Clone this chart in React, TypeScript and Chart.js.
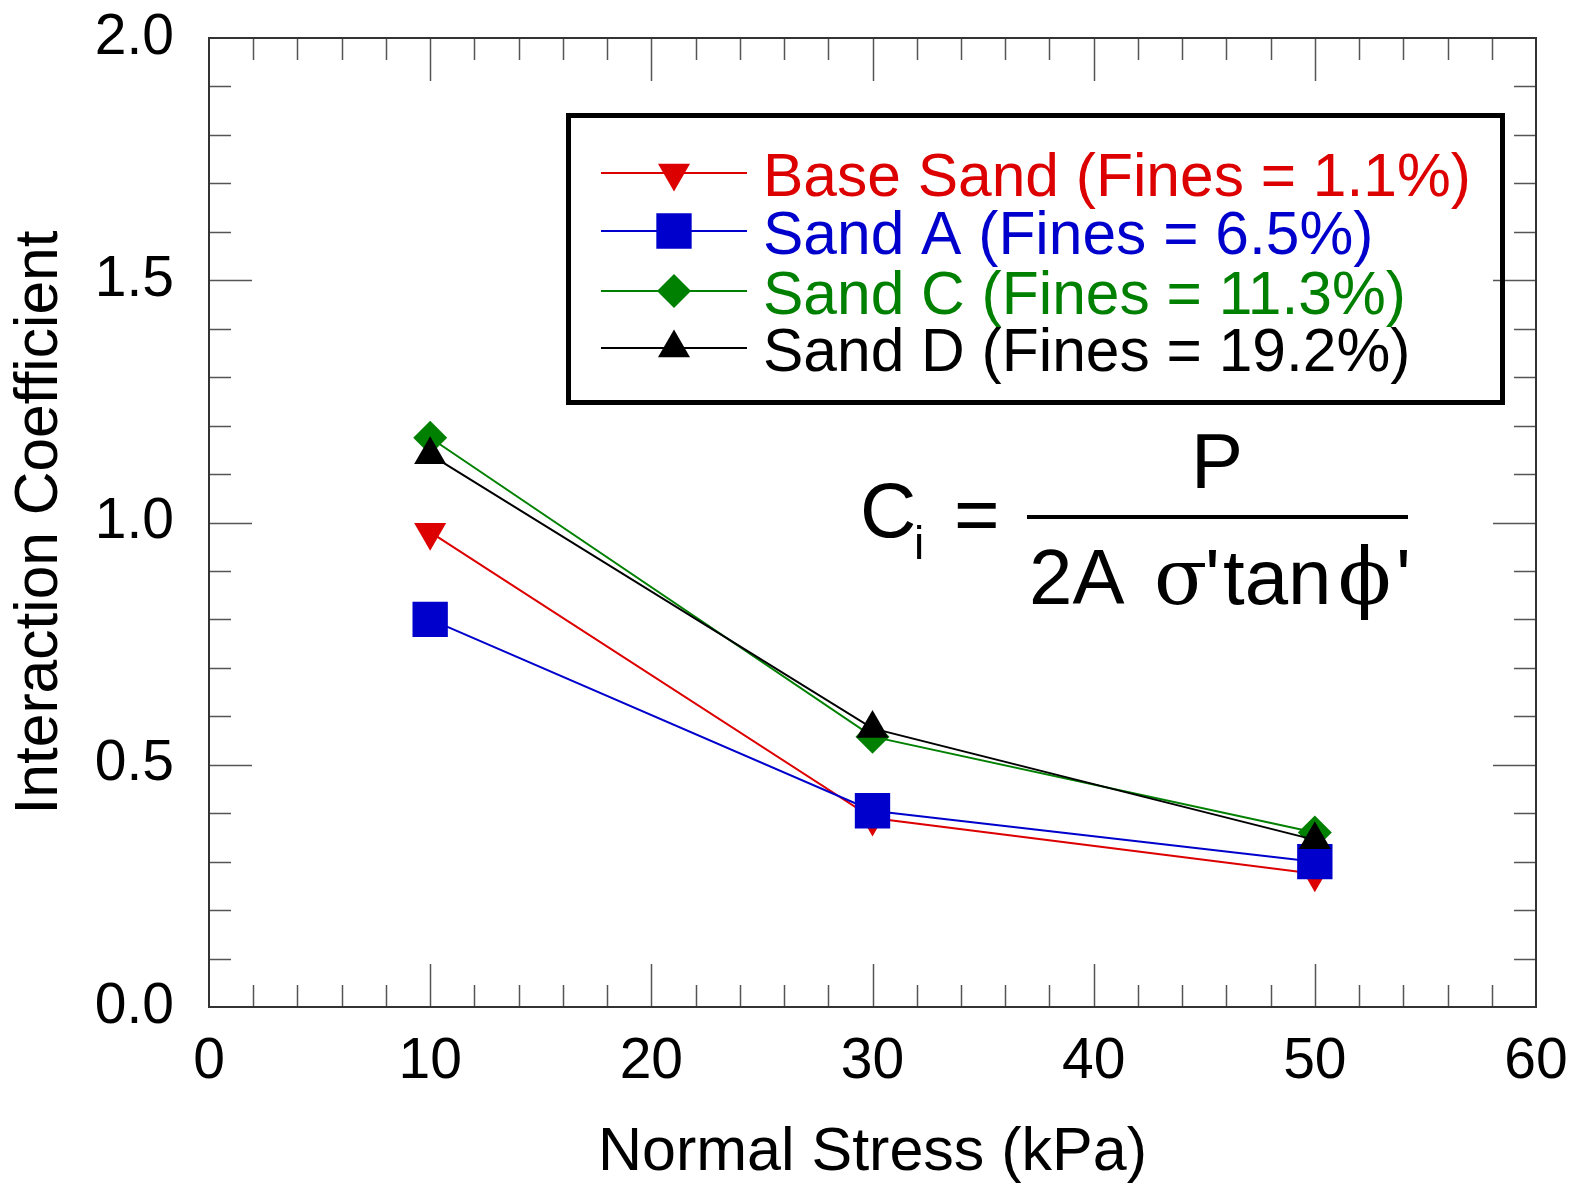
import React, { useEffect, useRef } from 'react';
import { Chart, registerables } from 'chart.js';

Chart.register(...registerables);

// ---------------- DATA ----------------
const stressKPa = [10, 30, 50];
const seriesNames = [
  'Base Sand (Fines = 1.1%)',
  'Sand A (Fines = 6.5%)',
  'Sand C (Fines = 11.3%)',
  'Sand D (Fines = 19.2%)',
];
const baseSand = [0.98, 0.39, 0.275];
const sandA = [0.8, 0.405, 0.3];
const sandC = [1.175, 0.558, 0.36];
const sandD = [1.14, 0.575, 0.345];
const xTickValues = [0, 10, 20, 30, 40, 50, 60];
const yTickValues = [0, 0.5, 1.0, 1.5, 2.0];
const xMinorStep = 2;
const yMinorStep = 0.1;
const xTitle = 'Normal Stress (kPa)';
const yTitle = 'Interaction Coefficient';

// ---------------- STYLES ----------------
const seriesColors = ['#dd0000', '#0000cc', '#008000', '#000000'];
const seriesStyles = [
  { pointStyle: 'triangle', radius: 18.5, rotation: 180 },
  { pointStyle: 'rect', radius: 25, rotation: 0 },
  { pointStyle: 'rectRot', radius: 17, rotation: 0 },
  { pointStyle: 'triangle', radius: 18.5, rotation: 0 },
];
const seriesOrder = [4, 2, 3, 1];
const FONT = '"Liberation Sans", Arial, Helvetica, sans-serif';
const SERIF = '"DejaVu Serif", "Liberation Serif", serif';

function drawMarker(ctx: CanvasRenderingContext2D, style: string, r: number, rotDeg: number, x: number, y: number, color: string) {
  ctx.save();
  ctx.fillStyle = color;
  ctx.beginPath();
  let rad = (rotDeg * Math.PI) / 180;
  if (style === 'triangle') {
    ctx.moveTo(x + Math.sin(rad) * r, y - Math.cos(rad) * r);
    rad += (2 * Math.PI) / 3;
    ctx.lineTo(x + Math.sin(rad) * r, y - Math.cos(rad) * r);
    rad += (2 * Math.PI) / 3;
    ctx.lineTo(x + Math.sin(rad) * r, y - Math.cos(rad) * r);
    ctx.closePath();
  } else if (style === 'rect') {
    const s = Math.SQRT1_2 * r;
    ctx.rect(x - s, y - s, 2 * s, 2 * s);
  } else {
    ctx.moveTo(x - r, y);
    ctx.lineTo(x, y - r);
    ctx.lineTo(x + r, y);
    ctx.lineTo(x, y + r);
    ctx.closePath();
  }
  ctx.fill();
  ctx.restore();
}

const frameTicksPlugin = {
  id: 'frameTicks',
  beforeDatasetsDraw(chart: any) {
    const ctx: CanvasRenderingContext2D = chart.ctx;
    const { left, right, top, bottom } = chart.chartArea;
    const xs = chart.scales.x;
    const ys = chart.scales.y;
    ctx.save();
    ctx.strokeStyle = '#555';
    ctx.lineWidth = 1.5;
    const isMajor = (v: number, list: number[]) => list.some((t) => Math.abs(t - v) < 1e-6);
    const nx = Math.round((xs.max - xs.min) / xMinorStep);
    for (let i = 1; i < nx; i++) {
      const v = xs.min + i * xMinorStep;
      const len = isMajor(v, xTickValues) ? 43 : 22;
      const px = Math.round(xs.getPixelForValue(v)) + 0.5;
      ctx.beginPath();
      ctx.moveTo(px, bottom);
      ctx.lineTo(px, bottom - len);
      ctx.moveTo(px, top);
      ctx.lineTo(px, top + len);
      ctx.stroke();
    }
    const ny = Math.round((ys.max - ys.min) / yMinorStep);
    for (let i = 1; i < ny; i++) {
      const v = ys.min + i * yMinorStep;
      const len = isMajor(v, yTickValues) ? 43 : 22;
      const py = Math.round(ys.getPixelForValue(v)) + 0.5;
      ctx.beginPath();
      ctx.moveTo(left, py);
      ctx.lineTo(left + len, py);
      ctx.moveTo(right, py);
      ctx.lineTo(right - len, py);
      ctx.stroke();
    }
    ctx.strokeStyle = '#333';
    ctx.lineWidth = 2;
    ctx.strokeRect(left, top, right - left, bottom - top);
    ctx.restore();
  },
  afterDraw(chart: any) {
    const ctx: CanvasRenderingContext2D = chart.ctx;
    ctx.save();
    // Legend box
    ctx.strokeStyle = '#000';
    ctx.lineWidth = 5;
    ctx.strokeRect(568.5, 115.5, 934, 287);
    const rowY = [173, 231, 291, 348];
    seriesNames.forEach((name, i) => {
      const y = rowY[i];
      ctx.strokeStyle = seriesColors[i];
      ctx.lineWidth = 2;
      ctx.beginPath();
      ctx.moveTo(601, y);
      ctx.lineTo(747, y);
      ctx.stroke();
      const st = seriesStyles[i];
      drawMarker(ctx, st.pointStyle, st.radius, st.rotation, 674, y, seriesColors[i]);
      ctx.fillStyle = seriesColors[i];
      ctx.font = `60.5px ${FONT}`;
      ctx.textBaseline = 'alphabetic';
      ctx.textAlign = 'left';
      ctx.fillText(name, 763, y + 23);
    });

    // Formula
    ctx.fillStyle = '#000';
    ctx.textAlign = 'left';
    ctx.textBaseline = 'alphabetic';
    ctx.font = `78px ${FONT}`;
    ctx.fillText('C', 860, 537);
    ctx.font = `46px ${FONT}`;
    ctx.fillText('i', 914, 559);
    ctx.font = `78px ${FONT}`;
    ctx.fillText('=', 954, 541);
    ctx.fillRect(1027, 515, 381, 4);
    ctx.textAlign = 'center';
    ctx.fillText('P', 1217, 488);
    ctx.textAlign = 'left';
    ctx.fillText('2A', 1029, 604);
    ctx.font = `78px ${SERIF}`;
    ctx.fillText('\u03C3', 1154, 604);
    ctx.font = `78px ${FONT}`;
    ctx.fillText("'", 1205, 604);
    ctx.fillText('tan', 1223, 604);
    ctx.font = `78px ${SERIF}`;
    ctx.fillText('\u03D5', 1338, 604);
    ctx.font = `78px ${FONT}`;
    ctx.fillText("'", 1396, 604);
    ctx.restore();
  },
};

export default function App() {
  const canvasRef = useRef<HTMLCanvasElement | null>(null);

  useEffect(() => {
    const canvas = canvasRef.current;
    if (!canvas) return;
    const allValues = [baseSand, sandA, sandC, sandD];
    const resetPad = (scale: any) => {
      scale.paddingTop = 0;
      scale.paddingBottom = 0;
      scale.paddingLeft = 0;
      scale.paddingRight = 0;
    };
    const chart = new Chart(canvas, {
      type: 'line',
      data: {
        datasets: allValues.map((vals, i) => ({
          label: seriesNames[i],
          data: stressKPa.map((x, j) => ({ x, y: vals[j] })),
          borderColor: seriesColors[i],
          backgroundColor: seriesColors[i],
          borderWidth: 2,
          pointStyle: seriesStyles[i].pointStyle as any,
          pointRadius: seriesStyles[i].radius,
          pointHoverRadius: seriesStyles[i].radius,
          pointRotation: seriesStyles[i].rotation,
          pointBorderWidth: 0,
          pointBackgroundColor: seriesColors[i],
          tension: 0,
          fill: false,
          order: seriesOrder[i],
        })),
      },
      options: {
        responsive: false,
        animation: false,
        devicePixelRatio: 1,
        layout: { padding: { left: 0, top: 38, right: 43, bottom: 0 } },
        plugins: {
          legend: { display: false },
          tooltip: { enabled: false },
        },
        scales: {
          x: {
            type: 'linear',
            min: 0,
            max: 60,
            afterBuildTicks: (scale: any) => {
              scale.ticks = xTickValues.map((v) => ({ value: v }));
            },
            afterFit: (scale: any) => {
              scale.height = 178;
              resetPad(scale);
            },
            grid: { display: false, drawTicks: false },
            border: { display: false },
            ticks: {
              color: '#000',
              font: { family: FONT, size: 57 },
              padding: 21,
              maxRotation: 0,
              autoSkip: false,
              callback: (v: any) => String(v),
            },
            title: {
              display: true,
              text: xTitle,
              color: '#000',
              font: { family: FONT, size: 61, lineHeight: 0.9 },
              padding: { top: 0, bottom: 4 },
            },
          },
          y: {
            type: 'linear',
            min: 0,
            max: 2,
            afterBuildTicks: (scale: any) => {
              scale.ticks = yTickValues.map((v) => ({ value: v }));
            },
            afterFit: (scale: any) => {
              scale.width = 209;
              resetPad(scale);
            },
            grid: { display: false, drawTicks: false },
            border: { display: false },
            ticks: {
              color: '#000',
              font: { family: FONT, size: 57 },
              padding: 35,
              autoSkip: false,
              callback: (v: any) => Number(v).toFixed(1),
            },
            title: {
              display: true,
              text: yTitle,
              color: '#000',
              font: { family: FONT, size: 60.5, lineHeight: 1.2 },
              padding: { top: 4, bottom: 0 },
            },
          },
        },
      },
      plugins: [frameTicksPlugin],
    } as any);
    return () => chart.destroy();
  }, []);

  return (
    <div style={{ position: 'fixed', left: 0, top: 0, width: 1579, height: 1185, background: '#fff' }}>
      <canvas ref={canvasRef} width={1579} height={1185} style={{ width: 1579, height: 1185, display: 'block' }} />
    </div>
  );
}
